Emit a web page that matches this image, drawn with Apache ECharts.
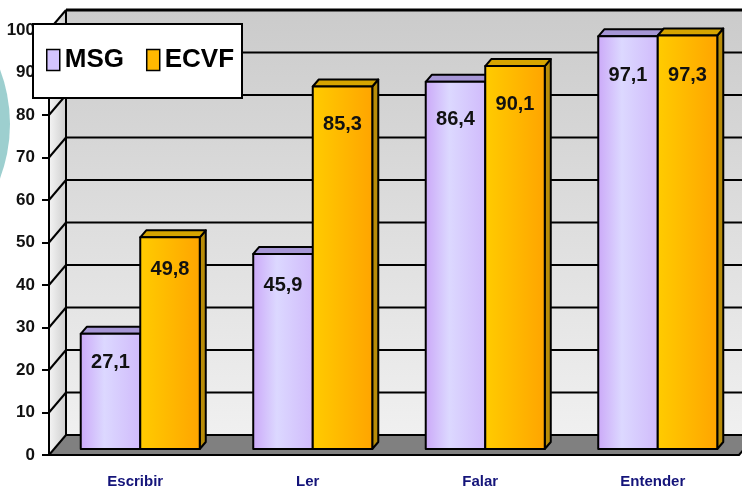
<!DOCTYPE html>
<html>
<head>
<meta charset="utf-8">
<script src="https://cdn.jsdelivr.net/npm/echarts@6/dist/echarts.min.js"></script>
<style>
  html, body { margin: 0; padding: 0; background: #fff; }
  #chart { width: 742px; height: 496px; }
</style>
</head>
<body>
<div id="chart"></div>
<script>
const categories = ['Escribir', 'Ler', 'Falar', 'Entender'];
const msgValues = [27.1, 45.9, 86.4, 97.1];
const ecvfValues = [49.8, 85.3, 90.1, 97.3];
const yTicks = [0, 10, 20, 30, 40, 50, 60, 70, 80, 90, 100];

// depth of the 3d box (back wall offset)
const DX = 17, DY = -20;
// where the bars stand inside the box, and the bars' own depth
const BX = 5, BY = -6;
const SX = 6, SY = -7;
const BAR_FRAC = 0.345;
const FONT = '"Liberation Sans", Arial, sans-serif';

const chart = echarts.init(document.getElementById('chart'));

const fmt = v => String(v).replace('.', ',');

function renderBox(params, api) {
  const cs = params.coordSys;
  const x0 = cs.x, x1 = cs.x + cs.width;
  const yb = api.coord([0, yTicks[0]])[1];
  const yt = api.coord([0, yTicks[yTicks.length - 1]])[1];
  const black = { stroke: '#000', lineWidth: 2 };
  const children = [
    {
      type: 'rect',
      shape: { x: x0 + DX, y: yt + DY, width: cs.width, height: yb - yt },
      style: { fill: { type: 'linear', x: 0, y: 0, x2: 0, y2: 1,
        colorStops: [{ offset: 0, color: '#cbcbcb' }, { offset: 1, color: '#f0f0f0' }] } }
    },
    {
      type: 'polygon',
      shape: { points: [[x0, yt], [x0 + DX, yt + DY], [x0 + DX, yb + DY], [x0, yb]] },
      style: { fill: { type: 'linear', x: 0, y: 0, x2: 1, y2: 0,
        colorStops: [{ offset: 0, color: '#f4f4f4' }, { offset: 1, color: '#cfcfcf' }] } }
    },
    {
      type: 'polygon',
      shape: { points: [[x0, yb], [x0 + DX, yb + DY], [x1 + DX, yb + DY], [x1, yb]] },
      style: { fill: '#808080' }
    }
  ];
  yTicks.forEach(t => {
    const y = api.coord([0, t])[1];
    children.push({ type: 'line', shape: { x1: x0, y1: y, x2: x0 + DX, y2: y + DY }, style: black });
    children.push({ type: 'line', shape: { x1: x0 + DX, y1: y + DY, x2: x1 + DX, y2: y + DY },
      style: { stroke: '#000', lineWidth: t === 100 ? 3 : 2 } });
  });
  children.push({ type: 'line', shape: { x1: x0 + DX, y1: yt + DY, x2: x0 + DX, y2: yb + DY }, style: black });
  children.push({ type: 'line', shape: { x1: x1, y1: yb, x2: x1 + DX, y2: yb + DY }, style: black });
  return { type: 'group', children };
}

function barRenderer(first, front, top, side) {
  return function (params, api) {
    const c = api.value(0), v = api.value(1);
    const base = api.coord([c, 0]);
    const tip = api.coord([c, v]);
    const bw = api.size([1, 0])[0] * BAR_FRAC;
    const xl = base[0] + BX - (first ? bw : 0);
    const xr = xl + bw;
    const yb = base[1] + BY, yt = tip[1] + BY;
    const edge = { stroke: '#000', lineWidth: 2, lineJoin: 'round' };
    return {
      type: 'group',
      children: [
        { type: 'polygon', shape: { points: [[xr, yt], [xr + SX, yt + SY], [xr + SX, yb + SY], [xr, yb]] },
          style: Object.assign({ fill: side }, edge) },
        { type: 'polygon', shape: { points: [[xl, yt], [xl + SX, yt + SY], [xr + SX, yt + SY], [xr, yt]] },
          style: Object.assign({ fill: top }, edge) },
        { type: 'rect', shape: { x: xl, y: yt, width: bw, height: yb - yt },
          style: Object.assign({ fill: front }, edge) },
        { type: 'text', style: {
            text: fmt(v), x: xl + bw / 2, y: yt + 24 + 0.16 * v,
            align: 'center', verticalAlign: 'middle',
            font: 'bold 20px ' + FONT, fill: '#111'
          } }
      ]
    };
  };
}

const msgFront = { type: 'linear', x: 0, y: 0, x2: 1, y2: 0,
  colorStops: [{ offset: 0, color: '#cba8f8' }, { offset: 0.4, color: '#dcd8ff' }, { offset: 1, color: '#d0bafb' }] };
const ecvfFront = { type: 'linear', x: 0, y: 0, x2: 1, y2: 0,
  colorStops: [{ offset: 0, color: '#ffcc00' }, { offset: 1, color: '#ffa400' }] };

chart.setOption({
  animation: false,
  textStyle: { fontFamily: FONT },
  grid: { left: 49, right: 3, top: 30, bottom: 41 },
  xAxis: {
    type: 'category',
    data: categories,
    z: 10,
    axisLine: { lineStyle: { color: '#000', width: 2 } },
    axisTick: { length: 8, lineStyle: { color: '#000', width: 2 } },
    axisLabel: { color: '#14147a', fontWeight: 'bold', fontSize: 15, margin: 19 }
  },
  yAxis: {
    type: 'value',
    min: yTicks[0],
    max: yTicks[yTicks.length - 1],
    interval: 10,
    z: 10,
    splitLine: { show: false },
    axisLine: { show: true, lineStyle: { color: '#000', width: 2 } },
    axisTick: { show: true, length: 7, lineStyle: { color: '#000', width: 2 } },
    axisLabel: { color: '#111', fontWeight: 'bold', fontSize: 17, margin: 14 }
  },
  legend: {
    left: 46,
    top: 47,
    padding: 0,
    z: 21,
    icon: 'rect',
    itemWidth: 13,
    itemHeight: 21,
    itemGap: 22,
    textStyle: { fontSize: 26, fontWeight: 'bold', color: '#000' },
    data: [
      { name: 'MSG', itemStyle: { color: '#d4c4ff', borderColor: '#000', borderWidth: 1.5 } },
      { name: 'ECVF', itemStyle: { color: '#ffb800', borderColor: '#000', borderWidth: 1.5 } }
    ]
  },
  graphic: [
    { type: 'circle', z: 0, shape: { cx: -143, cy: 124, r: 153 }, style: { fill: '#9dcfcf' } },
    { type: 'rect', z: 20, shape: { x: 33, y: 24, width: 209, height: 74 },
      style: { fill: '#fff', stroke: '#000', lineWidth: 2 } }
  ],
  series: [
    {
      type: 'custom', name: 'box', silent: true, z: 1,
      renderItem: renderBox,
      data: [[0, 0]]
    },
    {
      type: 'custom', name: 'MSG', z: 3,
      itemStyle: { color: '#d4c4ff' },
      renderItem: barRenderer(true, msgFront, '#a696d6', '#b8a6e8'),
      data: msgValues.map((v, i) => [i, v])
    },
    {
      type: 'custom', name: 'ECVF', z: 4,
      itemStyle: { color: '#ffb800' },
      renderItem: barRenderer(false, ecvfFront, '#d6a400', '#b88c08'),
      data: ecvfValues.map((v, i) => [i, v])
    }
  ]
});
</script>
</body>
</html>
